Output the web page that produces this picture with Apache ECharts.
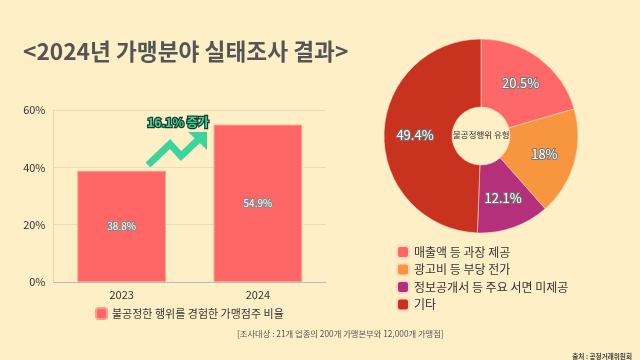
<!DOCTYPE html>
<html><head><meta charset="utf-8">
<script src="https://cdn.jsdelivr.net/npm/echarts@6/dist/echarts.min.js"></script>
<style>html,body{margin:0;padding:0;background:#FEEFC6}#c{width:640px;height:360px}</style>
</head><body><div id="c"></div>
<script>
const years = ['2023', '2024'];
const barValues = [38.8, 54.9];
const barSeriesName = '불공정한 행위를 경험한 가맹점주 비율';
const yTicks = [0, 20, 40, 60];
const pieNames = ['매출액 등 과장 제공', '광고비 등 부당 전가', '정보공개서 등 주요 서면 미제공', '기타'];
const pieValues = [20.5, 18, 12.1, 49.4];
const pieColors = ['#FF6868', '#F7963F', '#B5307B', '#C8321F'];
const F = '"Noto Sans CJK KR", "Noto Sans", sans-serif';

const chart = echarts.init(document.getElementById('c'));
chart.setOption({
  backgroundColor: '#FEEFC6',
  textStyle: { fontFamily: F },
  title: [
    { text: '<2024년 가맹분야 실태조사 결과>', left: 18, top: 35,
      textStyle: { fontSize: 22.7, fontWeight: 'bold', color: '#555555', fontFamily: F } },
    { text: '[조사대상 : 21개 업종의 200개 가맹본부와 12,000개 가맹점]', left: 232, top: 325,
      textStyle: { fontSize: 8.3, fontWeight: 'normal', color: '#555555', fontFamily: F } },
    { text: '출처 : 공정거래위원회', right: 3, top: 348,
      textStyle: { fontSize: 6.6, fontWeight: 'bold', color: '#444444', fontFamily: F } }
  ],
  legend: [
    { data: [barSeriesName], left: 90, top: 302, itemWidth: 11, itemHeight: 11, itemGap: 6,
      icon: 'roundRect', textStyle: { fontSize: 11, color: '#333', fontFamily: F } },
    { data: pieNames, orient: 'vertical', left: 391, top: 240, itemWidth: 12, itemHeight: 12,
      itemGap: 3.5, icon: 'roundRect', textStyle: { fontSize: 12, color: '#333', fontFamily: F } }
  ],
  grid: { left: 53.5, right: 314, top: 110, bottom: 78 },
  xAxis: {
    type: 'category', data: years,
    axisLine: { lineStyle: { color: '#BBBBBB' } },
    axisTick: { show: false },
    axisLabel: { color: '#333', fontSize: 11, margin: 7 }
  },
  yAxis: {
    type: 'value', min: yTicks[0], max: yTicks[yTicks.length - 1], interval: 20,
    axisLine: { show: true, lineStyle: { color: '#E2D6B5' } },
    axisLabel: { formatter: '{value}%', color: '#333', fontSize: 11 },
    splitLine: { lineStyle: { color: '#E8DCBB' } }
  },
  series: [
    {
      type: 'bar', name: barSeriesName, data: barValues, barWidth: '65%',
      itemStyle: { color: '#FF6666', borderColor: '#FF9C8C', borderWidth: 1 },
      label: { show: true, position: 'inside', formatter: '{c}%', color: '#fff', fontSize: 10,
        textBorderColor: '#888', textBorderWidth: 2 }
    },
    {
      type: 'pie', name: '불공정행위 유형', center: [481, 136], radius: [29, 97],
      data: pieNames.map((n, i) => ({ name: n, value: pieValues[i], itemStyle: { color: pieColors[i] } })),
      itemStyle: { borderColor: '#FFD9C0', borderWidth: 0.6 },
      label: { show: true, position: 'inside', formatter: '{c}%', color: '#fff', fontSize: 13,
        textBorderColor: '#777', textBorderWidth: 2 },
      emphasis: { disabled: true }
    }
  ],
  graphic: [
    { type: 'text', left: 453, top: 131,
      style: { text: '불공정행위 유형', fontSize: 8.5, fill: '#333', fontFamily: F } },
    { type: 'polyline', shape: { points: [[148, 165], [170, 144], [181, 156], [199, 139]] },
      style: { stroke: '#3DD49B', lineWidth: 7, fill: null, lineJoin: 'miter' } },
    { type: 'polygon', shape: { points: [[188, 132], [207, 132], [207, 150]] },
      style: { fill: '#3DD49B' } },
    { type: 'text', left: 146, top: 115,
      style: { text: '16.1% 증가', fontSize: 12, fontWeight: 'bold', fill: '#3DD49B',
        stroke: '#1E3B30', lineWidth: 2.5, fontFamily: F } }
  ]
});
</script></body></html>
